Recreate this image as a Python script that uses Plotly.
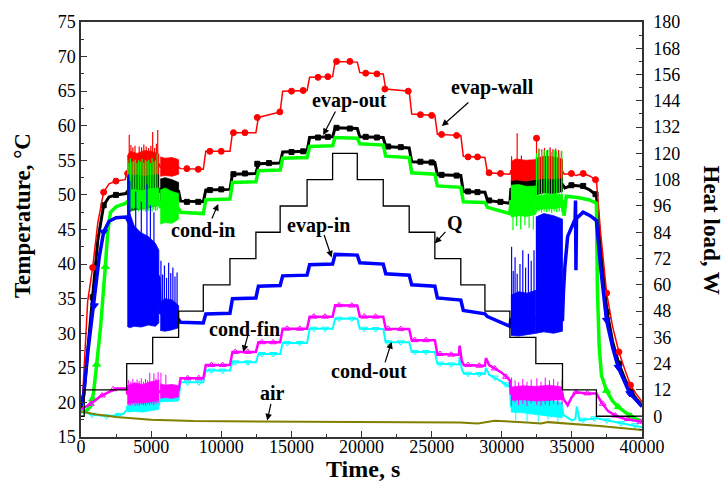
import plotly.graph_objects as go

FONT = "Liberation Serif, Times New Roman, Times, serif"

# ---------------- heater power schedule (right axis, W) ----------------
Q_TIME = [0, 230, 3260, 5110, 6960, 8720, 10620, 12470, 14200, 16120, 17940,
          19700, 21550, 23400, 25230, 27080, 28800, 30580, 32430, 34330, 36750, 40000]
Q_LOAD = [0, 12, 24, 36, 48, 60, 72, 84, 96, 108, 120,
          108, 96, 84, 72, 60, 48, 36, 24, 12, 0, 0]

# ---------------- temperature records (t [s], T [degC]) ----------------
EVAP_WALL = [(0, 20.6), (120, 21.0), (250, 26.0), (475, 34.6), (831, 39.5), (1200, 46.0),
             (1616, 50.4), (2000, 51.6), (2500, 52.0), (3150, 52.2), (3300, 53.5), (5550, 54.5),
             (5650, 54.0), (6960, 54.0), (7100, 53.8), (8720, 53.7), (8900, 56.3), (10620, 56.3),
             (10800, 59.0), (12470, 59.0), (12650, 61.2), (14200, 62.0), (14380, 65.0), (16120, 65.1),
             (16300, 67.0), (17940, 67.1), (18120, 69.3), (19700, 69.2), (19880, 67.7), (21550, 67.5),
             (21730, 65.3), (23400, 65.0), (23580, 61.7), (25230, 61.5), (25410, 58.75), (27080, 58.6),
             (27260, 55.6), (28800, 55.4), (28980, 53.2), (30580, 53.0), (30650, 53.5), (34330, 53.5),
             (34450, 53.0), (35000, 53.1), (35300, 52.8), (35800, 53.1), (36300, 52.7), (36750, 52.1),
             (37050, 44.5), (37480, 35.8), (37900, 31.0), (38350, 27.3), (38800, 24.6), (39180, 22.5),
             (39600, 21.2), (40000, 20.1)]
EVAP_OUT = [(0, 19.2), (200, 21.0), (500, 28.0), (831, 35.2), (1200, 43.5), (1616, 48.5),
            (2000, 49.7), (2500, 50.0), (3200, 50.2), (3300, 50.5), (5550, 50.5), (5650, 50.8),
            (6960, 50.5), (7100, 49.1), (8720, 49.0), (8900, 50.7), (10620, 50.8), (10800, 53.0),
            (12470, 53.1), (12650, 54.5), (14200, 54.6), (14380, 56.2), (16120, 56.3), (16300, 58.3),
            (17940, 58.4), (18120, 59.7), (19700, 59.6), (19880, 58.4), (21550, 58.3), (21730, 57.0),
            (23400, 56.8), (23580, 54.8), (25230, 54.7), (25410, 52.9), (27080, 52.8), (27260, 50.5),
            (28800, 50.4), (28980, 49.2), (30580, 48.8), (30650, 50.8), (34330, 51.5), (34500, 51.0),
            (35000, 51.4), (35600, 51.3), (36200, 50.8), (36750, 50.0), (37050, 42.0), (37510, 33.1),
            (37900, 28.8), (38350, 25.6), (38800, 23.3), (39250, 21.5), (39600, 20.5), (40000, 19.6)]
COND_IN = [(0, 18.6), (400, 18.8), (700, 19.5), (900, 21.5), (1117, 25.5), (1400, 31.0),
           (1734, 39.6), (1900, 44.5), (2100, 47.5), (2500, 48.3), (3200, 48.8), (3300, 49.0),
           (5550, 49.0), (5650, 48.3), (6960, 48.0), (7100, 47.5), (8720, 47.3), (8900, 49.3),
           (10620, 49.4), (10800, 51.8), (12470, 51.9), (12650, 53.5), (14200, 53.6), (14380, 55.3),
           (16120, 55.4), (16300, 57.0), (17940, 57.1), (18120, 58.3), (19700, 58.2), (19880, 57.4),
           (21550, 57.2), (21730, 55.6), (23400, 55.4), (23580, 53.2), (25230, 53.0), (25410, 51.3),
           (27080, 51.1), (27260, 49.0), (28800, 48.9), (28980, 48.2), (30580, 47.3), (30650, 49.0),
           (34330, 49.0), (34450, 47.0), (34600, 49.8), (35500, 49.6), (36200, 49.3), (36750, 48.8),
           (36820, 36.2), (36950, 28.0), (37110, 23.9), (37470, 21.7), (37900, 20.2), (38300, 19.35),
           (38800, 18.6), (39200, 18.0), (39600, 17.6), (40000, 17.2)]
EVAP_IN = [(0, 19.5), (200, 21.3), (500, 27.5), (831, 33.0), (1000, 35.0), (1300, 41.0),
           (1616, 44.65), (2000, 46.2), (2500, 46.7), (3200, 46.8), (3300, 46.5), (5550, 38.0),
           (5650, 33.0), (6960, 32.0), (7100, 31.6), (8720, 31.5), (8900, 32.8), (10620, 32.9),
           (10800, 35.0), (12470, 35.1), (12650, 36.8), (14200, 36.9), (14380, 38.3), (16120, 38.4),
           (16300, 39.9), (17940, 40.0), (18120, 41.4), (19700, 41.3), (19880, 40.2), (21550, 40.0),
           (21730, 38.6), (23400, 38.4), (23580, 37.0), (25230, 36.8), (25410, 35.1), (27080, 34.8),
           (27260, 33.3), (28800, 32.8), (28980, 32.4), (30580, 31.0), (30650, 32.0), (34330, 32.0),
           (34400, 36.0), (34500, 39.6), (34700, 44.0), (34970, 45.4), (35230, 46.5), (35260, 49.2),
           (35290, 39.1), (35330, 46.6), (35800, 47.5), (36300, 47.0), (36750, 46.3), (37050, 39.5),
           (37470, 31.9), (37900, 28.0), (38300, 25.1), (38750, 22.9), (39130, 21.3), (39600, 20.3),
           (40000, 19.4)]
COND_FIN = [(0, 19.0), (700, 19.8), (1400, 20.9), (2100, 21.6), (2500, 22.0), (3260, 22.0),
            (3300, 21.3), (5550, 21.5), (5650, 21.6), (6960, 21.8), (7100, 23.5), (8720, 23.5),
            (8900, 25.4), (10620, 25.4), (10800, 27.3), (12470, 27.3), (12650, 28.7), (14200, 28.7),
            (14380, 30.65), (16120, 30.65), (16300, 32.4), (17940, 32.4), (18120, 34.05), (19700, 34.0),
            (19880, 32.4), (21550, 32.4), (21730, 30.65), (23400, 30.6), (23580, 29.0), (25230, 29.0),
            (25410, 27.0), (26950, 26.9), (27000, 28.2), (27150, 26.0), (27300, 25.4), (28800, 25.3),
            (28870, 26.4), (29100, 25.4), (30000, 24.3), (30580, 23.2), (30650, 21.3), (34330, 21.3),
            (34400, 20.5), (34700, 19.6), (35000, 20.8), (35300, 21.5), (36000, 21.3), (36750, 21.3),
            (37100, 20.0), (37600, 18.7), (38200, 18.0), (38800, 17.6), (39500, 17.4), (40000, 17.2)]
COND_OUT = [(0, 18.8), (800, 18.2), (2000, 18.0), (3000, 18.3), (3260, 18.9), (3300, 19.4),
            (5550, 19.6), (5650, 20.4), (6960, 20.5), (7100, 22.9), (8720, 22.9), (8900, 24.6),
            (10620, 24.6), (10800, 25.8), (12470, 25.8), (12650, 27.0), (14200, 27.0), (14380, 28.6),
            (16120, 28.6), (16300, 30.65), (17940, 30.65), (18120, 32.1), (19700, 32.1), (19880, 30.65),
            (21550, 30.6), (21730, 28.7), (23400, 28.7), (23580, 27.3), (25230, 27.3), (25410, 25.6),
            (26950, 25.5), (27000, 26.6), (27150, 24.8), (27300, 24.15), (28800, 24.1), (28870, 25.0),
            (29100, 24.0), (30000, 23.0), (30580, 22.2), (30650, 19.4), (34330, 19.0), (34400, 18.2),
            (35000, 17.4), (35250, 17.6), (35350, 19.4), (35550, 17.4), (36750, 17.7), (37500, 17.4),
            (38500, 17.0), (39500, 16.7), (40000, 16.4)]
AIR = [(0, 18.7), (1000, 18.3), (2500, 17.9), (5000, 17.5), (8000, 17.3), (15000, 17.2),
       (27000, 17.1), (28300, 16.95), (29500, 17.35), (31500, 17.15), (32800, 16.95), (33300, 17.15),
       (35000, 16.9), (37000, 16.6), (40000, 16.0)]

# ---------------- oscillating periods: envelopes (t, low, high) ----------------
WALL_BANDS = [([3300, 3500, 4000, 4500, 5000, 5550], [52.7, 52.9, 53.0, 52.8, 53.0, 53.1], [55.6, 56.3, 56.0, 56.4, 56.3, 55.9]),
              ([5650, 6000, 6500, 6960], [52.7, 52.8, 52.7, 53.0], [55.5, 55.3, 55.4, 55.1]),
              ([30650, 31000, 31700, 32430], [52.0, 52.2, 52.0, 52.3], [54.8, 55.2, 55.0, 55.1]),
              ([32430, 33000, 33700, 34330], [52.2, 52.4, 52.3, 52.5], [55.3, 55.6, 55.5, 55.2])]
OUT_BANDS = [([3300, 3700, 4300, 4900, 5550], [47.5, 47.8, 48.0, 48.2, 48.5], [53.0, 53.4, 53.2, 53.4, 53.0]),
             ([5650, 6000, 6500, 6960], [49.1, 49.3, 49.2, 49.3], [52.3, 52.5, 52.2, 51.8]),
             ([30650, 31200, 31800, 32430], [49.5, 49.7, 49.6, 49.8], [52.1, 52.3, 52.0, 52.2]),
             ([32430, 33000, 33700, 34330], [50.0, 50.3, 50.2, 50.5], [55.0, 55.4, 55.3, 55.0])]
IN_BANDS = [([3300, 3700, 4300, 4900, 5550], [48.0, 48.2, 48.0, 48.3, 48.5], [50.5, 50.8, 50.6, 50.9, 51.0]),
            ([5650, 6000, 6500, 6960], [45.8, 46.0, 45.9, 46.5], [50.7, 51.0, 50.5, 50.2]),
            ([30650, 31200, 31800, 32430], [46.8, 47.0, 46.9, 47.2], [51.4, 51.5, 51.2, 51.3]),
            ([32430, 33000, 33700, 34330], [47.8, 48.0, 48.0, 48.2], [49.8, 50.0, 50.1, 50.0])]
EVAPIN_BANDS = [([3300, 3450, 3800, 4300, 4800, 5300, 5550], [31.0, 30.8, 31.0, 30.9, 31.2, 31.0, 31.5], [47.0, 47.5, 45.5, 44.5, 44.0, 43.0, 42.0]),
                ([5650, 6000, 6500, 6960], [30.4, 30.3, 30.5, 30.8], [34.5, 35.0, 34.8, 34.0]),
                ([30650, 31200, 31800, 32430], [29.7, 29.6, 29.8, 30.0], [35.5, 36.0, 35.8, 36.2]),
                ([32430, 33000, 33700, 34330], [30.0, 30.2, 30.0, 30.3], [46.8, 47.3, 47.0, 46.5])]
FIN_BANDS = [([3300, 3800, 4400, 5000, 5550], [19.8, 20.0, 19.9, 20.1, 20.3], [22.4, 22.8, 22.6, 23.0, 23.2]),
             ([5650, 6000, 6500, 6960], [20.6, 20.7, 20.6, 20.8], [22.7, 22.5, 22.6, 22.4]),
             ([30650, 31500, 32430, 33400, 34330], [20.3, 20.4, 20.2, 20.3, 20.4], [22.2, 22.4, 22.3, 22.5, 22.2])]
OUTC_BANDS = [([3300, 3800, 4400, 5000, 5550], [18.6, 18.7, 18.6, 18.8, 19.0], [20.0, 20.3, 20.2, 20.4, 20.5]),
              ([5650, 6960], [20.1, 20.2], [20.8, 20.9]),
              ([30650, 31500, 32430, 33400, 34330], [18.6, 18.5, 18.3, 18.0, 17.8], [20.3, 20.5, 20.2, 20.3, 20.0])]

# individual excursions (t, low, high)
WALL_SPIKES = [(3440, 53.0, 58.7), (3560, 53.0, 57.2), (3700, 53.2, 56.9), (3850, 53.0, 57.1), (4150, 53.1, 57.0),
               (4320, 53.0, 56.9), (4480, 53.0, 57.3), (4650, 53.2, 57.0), (4820, 53.0, 56.8), (4980, 53.0, 57.1),
               (5110, 53.0, 59.1), (5250, 53.1, 56.8), (5380, 53.0, 57.4), (5470, 53.0, 59.4),
               (30700, 52.3, 55.6), (31100, 52.5, 58.9), (31400, 52.4, 55.7), (32480, 52.5, 58.2),
               (32650, 52.6, 56.7), (32850, 52.5, 56.6), (33050, 52.5, 56.8), (33250, 52.6, 56.5),
               (33450, 52.5, 56.9), (33650, 52.5, 56.6), (33850, 52.6, 56.7), (34050, 52.5, 56.5), (34250, 52.5, 56.3)]
IN_SPIKES = [(3330, 47.8, 55.0), (3420, 47.5, 54.6), (3520, 47.8, 55.3), (3630, 47.6, 54.8), (3750, 47.9, 54.9),
             (3870, 47.7, 55.1), (3990, 47.8, 54.6), (4110, 47.6, 55.0), (4230, 47.9, 54.8), (4350, 47.7, 55.2),
             (4470, 47.8, 54.7), (4590, 47.6, 55.0), (4710, 47.9, 54.9), (4830, 47.7, 55.1), (4950, 47.8, 54.6),
             (5070, 47.6, 55.3), (5190, 47.9, 54.8), (5310, 47.7, 55.0), (5430, 47.8, 56.0),
             (30800, 44.9, 48.0), (31050, 45.5, 48.0), (31350, 45.0, 48.0), (31650, 45.6, 48.0),
             (31950, 45.2, 48.0), (32250, 45.0, 48.0),
             (32480, 47.5, 56.0), (32660, 47.6, 56.6), (32840, 47.4, 56.3), (33020, 47.6, 56.5),
             (33200, 47.5, 56.4), (33380, 47.6, 56.6), (33560, 47.4, 56.2), (33740, 47.6, 56.5),
             (33920, 47.5, 56.3), (34100, 47.6, 56.0), (34280, 47.5, 56.4)]
EVAPIN_SPIKES = [(3330, 46.0, 52.8), (3400, 46.0, 53.0), (3480, 46.0, 52.0), (3900, 44.0, 50.5), (4300, 44.0, 49.0),
                 (4700, 43.0, 51.5), (4950, 43.0, 48.5), (5200, 42.0, 47.5),
                 (5700, 34.0, 40.5), (5820, 34.0, 38.5), (5950, 34.0, 39.8), (6100, 34.0, 38.0), (6250, 34.0, 40.2),
                 (6400, 34.0, 38.7), (6550, 34.0, 39.5), (6700, 34.0, 38.2), (6850, 34.0, 38.8),
                 (30700, 35.0, 42.5), (30820, 35.0, 39.0), (30950, 35.0, 41.0), (31100, 35.0, 38.6), (31300, 35.0, 40.0),
                 (31500, 35.0, 42.0), (31700, 35.0, 39.5), (31900, 35.0, 41.5), (32100, 35.0, 40.5), (32300, 35.0, 42.0)]
FIN_SPIKES = [(3400, 19.6, 23.2), (3550, 19.5, 23.0), (3700, 19.7, 23.4), (3850, 19.5, 22.9), (4000, 19.6, 23.3),
              (4150, 19.5, 23.1), (4300, 19.7, 23.5), (4450, 19.6, 23.0), (4600, 19.5, 23.4), (4750, 19.7, 23.2),
              (4900, 19.6, 24.3), (5050, 19.8, 23.0), (5200, 19.6, 24.2), (5350, 19.8, 23.5), (5500, 19.9, 24.4),
              (5700, 21.0, 24.3), (6050, 21.0, 24.0),
              (30700, 19.5, 23.6), (30950, 20.0, 23.2), (31200, 19.6, 22.9), (31500, 19.8, 23.4), (31800, 19.5, 23.0),
              (32100, 19.9, 23.3), (32500, 19.6, 23.5), (32800, 19.5, 23.0), (33100, 19.7, 23.6), (33400, 19.5, 23.2),
              (33700, 19.8, 23.4), (34000, 19.6, 23.0), (34300, 19.7, 23.3)]
OUTC_SPIKES = [(31000, 17.4, 19.5), (31800, 17.3, 19.5), (32600, 17.2, 19.5), (33300, 17.5, 19.0), (34000, 17.2, 19.0)]

# ---------------- symbol positions ----------------
WALL_MARKS = [(831, 39.5), (1616, 50.4), (2494, 52.0), (3326, 53.1), (7550, 53.8), (8360, 53.7), (9190, 56.3),
              (10000, 56.3), (10870, 59.0), (11690, 59.0), (12570, 61.2), (14180, 62.0), (15010, 65.0),
              (15840, 65.1), (16900, 67.0), (17600, 67.1), (18220, 69.3), (19170, 69.3), (20300, 67.6),
              (21100, 67.5), (21670, 65.3), (23330, 65.0), (24200, 61.6), (25000, 61.5), (25710, 58.75),
              (26780, 58.6), (27600, 55.5), (28270, 55.5), (29100, 53.2), (29910, 53.1), (32480, 58.2),
              (34970, 53.1), (35805, 53.1), (36685, 52.2), (37480, 35.8), (38350, 27.3), (39180, 22.5)]
OUT_MARKS = [(831, 35.2), (1616, 48.5), (2494, 50.0), (7550, 49.0), (8360, 49.0), (9190, 50.7), (10000, 50.8),
             (10870, 53.0), (11690, 53.1), (12570, 54.5), (13400, 54.6), (15010, 56.2), (15840, 56.3),
             (16900, 58.3), (17600, 58.4), (18220, 59.7), (19170, 59.6), (20300, 58.4), (21100, 58.3),
             (21900, 57.0), (22800, 56.9), (24200, 54.8), (25000, 54.7), (25710, 52.9), (26780, 52.8),
             (27600, 50.5), (28270, 50.4), (29100, 49.2), (29910, 49.0), (34970, 51.4), (35805, 51.3),
             (36685, 50.1), (37510, 33.1), (38370, 25.6), (39250, 21.5)]
IN_MARKS = [(831, 20.5), (1117, 25.5), (1734, 39.6), (37470, 21.7), (38300, 19.35), (39200, 18.0)]
EVAPIN_MARKS = [(950, 34.0), (1616, 44.65), (37470, 31.9), (38300, 25.1), (39130, 21.3)]
FIN_MARKS = [(700, 19.8), (1500, 21.0), (2300, 21.9), (7600, 23.5), (8400, 23.5), (9300, 25.4), (10100, 25.4),
             (11000, 27.3), (11900, 27.3), (12900, 28.7), (13700, 28.7), (14700, 30.65), (15600, 30.65),
             (16600, 32.4), (17400, 32.4), (18400, 34.05), (19300, 34.0), (20200, 32.4), (21000, 32.4),
             (21900, 30.65), (22800, 30.6), (23800, 29.0), (24600, 29.0), (25600, 27.0), (26400, 26.9),
             (27600, 25.4), (28400, 25.3), (29500, 24.9), (30300, 23.7), (35300, 21.5), (36100, 21.3),
             (37200, 19.8), (38100, 18.1), (39000, 17.6), (39900, 17.2)]
OUTC_MARKS = [(800, 18.2), (1800, 18.0), (2700, 18.2), (7600, 22.9), (8400, 22.9), (9300, 24.6), (10100, 24.6),
              (11000, 25.8), (11900, 25.8), (12900, 27.0), (13700, 27.0), (14700, 28.6), (15600, 28.6),
              (16600, 30.65), (17400, 30.65), (18400, 32.1), (19300, 32.1), (20200, 30.65), (21000, 30.6),
              (21900, 28.7), (22800, 28.7), (23800, 27.3), (24600, 27.3), (25600, 25.6), (26400, 25.5),
              (27600, 24.15), (28400, 24.1), (29500, 23.6), (30300, 22.6), (35800, 17.5), (36600, 17.7),
              (37500, 17.4), (38500, 17.0), (39500, 16.7)]

X_TICKS = [0, 5000, 10000, 15000, 20000, 25000, 30000, 35000, 40000]
T_TICKS = [15, 20, 25, 30, 35, 40, 45, 50, 55, 60, 65, 70, 75]
Q_TICKS = [0, 12, 24, 36, 48, 60, 72, 84, 96, 108, 120, 132, 144, 156, 168, 180]

RED, BLACK, GREEN, BLUE = "#ff0000", "#000000", "#00ff00", "#0000ff"
MAGENTA, CYAN, OLIVE = "#ff00ff", "#00ffff", "#808000"

fig = go.Figure()


def add_bands(bands, color):
    for t, lo, hi in bands:
        fig.add_trace(go.Scatter(x=list(t) + list(t)[::-1], y=list(hi) + list(lo)[::-1],
                                 fill="toself", fillcolor=color, mode="lines",
                                 line=dict(color=color, width=0.8), hoverinfo="skip"))


def add_spikes(spikes, color, width=1.0):
    xs, ys = [], []
    for t, lo, hi in spikes:
        xs += [t, t, None]
        ys += [lo, hi, None]
    fig.add_trace(go.Scatter(x=xs, y=ys, mode="lines", line=dict(color=color, width=width),
                             hoverinfo="skip"))


def add_line(points, color, width):
    t, v = zip(*points)
    fig.add_trace(go.Scatter(x=t, y=v, mode="lines", line=dict(color=color, width=width)))


def add_marks(points, color, symbol, size, open_symbol=False):
    t, v = zip(*points)
    fig.add_trace(go.Scatter(x=t, y=v, mode="markers",
                             marker=dict(symbol=symbol, size=size,
                                         color="white" if open_symbol else color,
                                         line=dict(color=color, width=1))))


# evap-out
add_bands(OUT_BANDS, BLACK)
add_line(EVAP_OUT, BLACK, 3)
add_marks(OUT_MARKS, BLACK, "square", 5)
# evap-wall
add_bands(WALL_BANDS, RED)
add_spikes(WALL_SPIKES, RED, 1.2)
add_line(EVAP_WALL, RED, 1.5)
add_marks(WALL_MARKS, RED, "circle", 6)
# cond-in
add_bands(IN_BANDS, GREEN)
add_spikes(IN_SPIKES, GREEN, 1.2)
add_line(COND_IN, GREEN, 3.5)
add_marks(IN_MARKS, GREEN, "triangle-up", 7)
# evap-in
add_bands(EVAPIN_BANDS, BLUE)
add_spikes(EVAPIN_SPIKES, BLUE, 1.2)
add_line(EVAP_IN, BLUE, 3.5)
add_marks(EVAPIN_MARKS, BLUE, "triangle-down", 7)
# cond-out
add_bands(OUTC_BANDS, CYAN)
add_spikes(OUTC_SPIKES, CYAN, 1.0)
add_line(COND_OUT, CYAN, 2)
add_marks(OUTC_MARKS, CYAN, "triangle-down-open", 6)
# cond-fin
add_bands(FIN_BANDS, MAGENTA)
add_spikes(FIN_SPIKES, MAGENTA, 1.0)
add_line(COND_FIN, MAGENTA, 2.5)
add_marks(FIN_MARKS, MAGENTA, "triangle-up-open", 6)
# air
add_line(AIR, OLIVE, 2)
# heat load
fig.add_trace(go.Scatter(x=Q_TIME, y=Q_LOAD, mode="lines", line=dict(color=BLACK, width=1.3, shape="hv"),
                         yaxis="y2"))

# ---------------- labels with leader arrows ----------------
LABELS = [("evap-wall", 29365, 65.6), ("evap-out", 19150, 63.6), ("cond-in", 8695, 44.9),
          ("evap-in", 16930, 45.6), ("Q", 26660, 46.0), ("cond-fin", 11690, 30.6),
          ("cond-out", 20530, 24.5), ("air", 13685, 21.4)]
# arrow tip (t, T) and tail offset in px
ARROWS = [(25730, 59.95, 28, -25), (17270, 58.65, 13, -25), (9786, 48.7, -7, 16),
          (17870, 40.96, -8, -24), (25230, 43.0, 12, -13), (11570, 27.3, 5, -18),
          (22145, 28.75, -7, 22), (13280, 17.4, 4, -18)]

annotations = []
for text, t, v in LABELS:
    annotations.append(dict(x=t, y=v, xref="x", yref="y", text=f"<b>{text}</b>", showarrow=False,
                            xanchor="center", yanchor="middle",
                            font=dict(family=FONT, size=20, color="black")))
for t, v, ax, ay in ARROWS:
    annotations.append(dict(x=t, y=v, xref="x", yref="y", text="", showarrow=True, ax=ax, ay=ay,
                            arrowhead=2, arrowsize=1.1, arrowwidth=1.2, arrowcolor="black"))

annotations += [
    dict(x=-0.105, y=0.5325, xref="paper", yref="paper", text="<b>Temperature, °C</b>", textangle=-90,
         xanchor="center", yanchor="middle",
         showarrow=False, font=dict(family=FONT, size=23, color="black")),
    dict(x=1.123, y=0.50, xref="paper", yref="paper", text="<b>Heat load, W</b>", textangle=90,
         xanchor="center", yanchor="middle",
         showarrow=False, font=dict(family=FONT, size=23, color="black")),
    dict(x=0.503, y=-0.0771, xref="paper", yref="paper", text="<b>Time, s</b>", showarrow=False,
         xanchor="center", yanchor="middle",
         font=dict(family=FONT, size=24, color="black")),
]

axis_common = dict(showgrid=False, zeroline=False, showline=True, linecolor="#333333", linewidth=1.5,
                   ticks="inside", ticklen=6, tickwidth=1.3, tickcolor="#333333",
                   tickfont=dict(family=FONT, size=18, color="black"))

fig.update_layout(
    width=724, height=486,
    margin=dict(l=81, r=82, t=22, b=49),
    paper_bgcolor="white", plot_bgcolor="white",
    showlegend=False,
    font=dict(family=FONT, size=18, color="black"),
    annotations=annotations,
    xaxis=dict(range=[0, 40000], tickvals=X_TICKS, ticktext=[str(v) for v in X_TICKS], mirror=True,
               ticklabelstandoff=-7,
               minor=dict(dtick=2500, tick0=0, ticks="inside", ticklen=3, tickcolor="#333333"),
               **axis_common),
    yaxis=dict(range=[15, 75], tickvals=T_TICKS, ticktext=[str(v) for v in T_TICKS],
               minor=dict(dtick=2.5, tick0=15, ticks="inside", ticklen=3, tickcolor="#333333"),
               **axis_common),
    yaxis2=dict(range=[-9.47, 180], tickvals=Q_TICKS, ticktext=[str(v) for v in Q_TICKS],
                overlaying="y", side="right", ticklabelstandoff=6,
                minor=dict(dtick=6, tick0=0, ticks="inside", ticklen=3, tickcolor="#333333"),
                **axis_common),
)

fig.write_html("out.html")
